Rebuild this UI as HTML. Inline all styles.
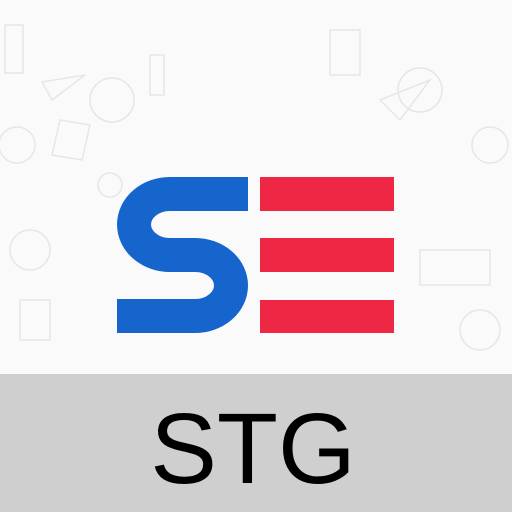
<!DOCTYPE html>
<html><head><meta charset="utf-8"><style>
html,body{margin:0;padding:0;width:512px;height:512px;overflow:hidden;background:#fafafa;}
</style></head><body>
<svg width="512" height="512" viewBox="0 0 512 512">
<rect x="0" y="0" width="512" height="512" fill="#fafafa"/>
<g fill="none" stroke="#e6e6e6" stroke-width="1.5">
<circle cx="112" cy="100" r="22"/><circle cx="17" cy="145" r="18"/><circle cx="110" cy="185" r="12"/>
<rect x="5" y="25" width="18" height="48"/><rect x="150" y="55" width="14" height="40"/>
<path d="M42 82 L85 75 L52 100 Z"/><path d="M60 120 L90 125 L82 160 L52 155 Z"/>
<circle cx="420" cy="90" r="22"/><circle cx="490" cy="145" r="18"/><circle cx="480" cy="330" r="20"/>
<rect x="330" y="30" width="30" height="45"/><rect x="420" y="250" width="70" height="35"/>
<path d="M380 100 L430 80 L400 120 Z"/><circle cx="30" cy="250" r="20"/><rect x="20" y="300" width="30" height="40"/>
<circle cx="40" cy="440" r="18"/><circle cx="470" cy="440" r="22"/><rect x="110" y="410" width="25" height="50"/>
<rect x="380" y="400" width="30" height="50"/>
</g>
<rect x="0" y="374" width="512" height="138" fill="#cfcfcf"/>
<path d="M248 194 L170 194 A36 30.5 0 0 0 170 255 L195 255 A36 30.5 0 0 1 195 316 L117 316" fill="none" stroke="#1565cc" stroke-width="34"/>
<rect x="260" y="177" width="134" height="34" fill="#ee2744"/>
<rect x="260" y="238" width="134" height="34" fill="#ee2744"/>
<rect x="260" y="300" width="134" height="33" fill="#ee2744"/>
<text x="253" y="483" text-anchor="middle" font-family="Liberation Sans, Arial, sans-serif" font-size="100" fill="#000">STG</text>
</svg>
</body></html>
